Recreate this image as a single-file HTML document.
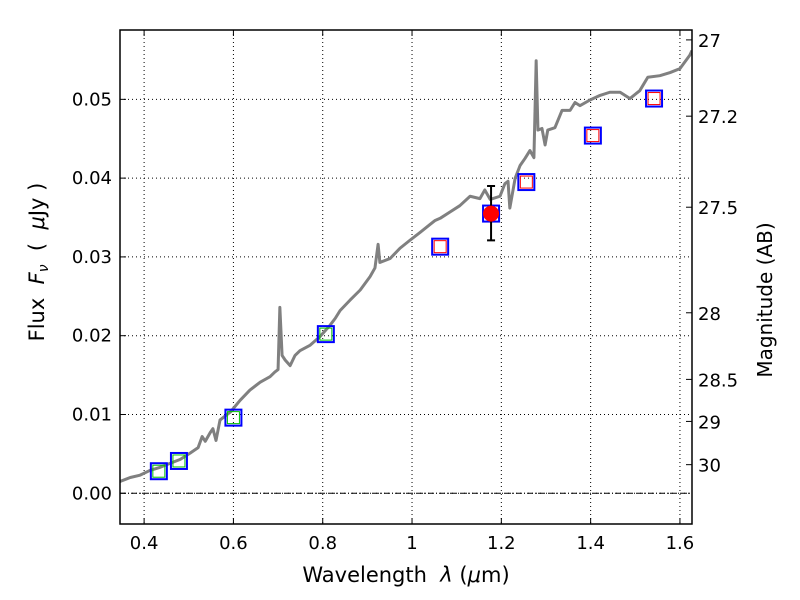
<!DOCTYPE html>
<html><head><meta charset="utf-8"><style>
body{margin:0;background:#fff;}
svg{display:block;font-family:"DejaVu Sans","Liberation Sans",sans-serif;}
</style></head><body>
<svg id="chart" width="800" height="600" viewBox="0 0 800 600" xmlns="http://www.w3.org/2000/svg"></svg>
<script>
const specWave=[0.346,0.369,0.391,0.413,0.436,0.458,0.481,0.503,0.521,0.530,0.537,0.548,0.554,0.561,0.570,0.593,0.615,0.637,0.660,0.682,0.693,0.700,0.704,0.709,0.716,0.727,0.738,0.749,0.772,0.794,0.816,0.828,0.839,0.861,0.884,0.906,0.917,0.924,0.928,0.951,0.973,0.995,1.018,1.040,1.051,1.063,1.085,1.107,1.130,1.152,1.163,1.175,1.197,1.208,1.215,1.219,1.231,1.242,1.253,1.264,1.273,1.278,1.282,1.291,1.298,1.304,1.320,1.336,1.354,1.365,1.376,1.398,1.421,1.443,1.466,1.488,1.510,1.528,1.555,1.578,1.600,1.622,1.627];
const specFlux=[0.0015,0.0020,0.0023,0.0029,0.0033,0.0038,0.0043,0.0051,0.0058,0.0072,0.0066,0.0077,0.0082,0.0067,0.0093,0.0103,0.0118,0.0131,0.0141,0.0148,0.0154,0.0157,0.0236,0.0175,0.0169,0.0162,0.0175,0.0181,0.0188,0.0199,0.0213,0.0222,0.0232,0.0245,0.0258,0.0275,0.0286,0.0316,0.0293,0.0298,0.0311,0.0321,0.0331,0.0341,0.0346,0.0349,0.0357,0.0365,0.0377,0.0374,0.0385,0.0373,0.0377,0.0393,0.0396,0.0362,0.0400,0.0416,0.0425,0.0435,0.0426,0.0549,0.0461,0.0463,0.0442,0.0461,0.0464,0.0486,0.0486,0.0496,0.0492,0.0499,0.0505,0.0509,0.0509,0.0501,0.0511,0.0528,0.0530,0.0534,0.0539,0.0556,0.0562];
const photWave=[0.433,0.478,0.600,0.807,1.063,1.177,1.256,1.405,1.542];
const photFlux=[0.0028,0.0041,0.0096,0.0202,0.0313,0.0355,0.0395,0.0454,0.0501];
const photKind=["green","green","green","green","red","none","red","red","red"];
const obsWave=[1.177];const obsFlux=[0.0355];const obsLo=[0.0321];const obsHi=[0.0390];
const xTicks=[0.4,0.6,0.8,1.0,1.2,1.4,1.6];
const xTickLabels=["0.4","0.6","0.8","1","1.2","1.4","1.6"];
const yTicks=[0.00,0.01,0.02,0.03,0.04,0.05];
const yTickLabels=["0.00","0.01","0.02","0.03","0.04","0.05"];
const magTicks=[27,27.2,27.5,28,28.5,29,30];
const magTickLabels=["27","27.2","27.5","28","28.5","29","30"];

const L=120,R=692,T=30,B=524,X0=0.346,X1=1.627,Y0=-0.0039,Y1=0.0588;
const sx=v=>L+(v-X0)/(X1-X0)*(R-L);
const sy=v=>B-(v-Y0)/(Y1-Y0)*(B-T);
const magToFlux=m=>Math.pow(10,(23.9-m)/2.5);
const svg=document.getElementById('chart');const NS="http://www.w3.org/2000/svg";
function mk(tag,attrs,parent){const e=document.createElementNS(NS,tag);for(const k in attrs)e.setAttribute(k,attrs[k]);(parent||svg).appendChild(e);return e;}
const defs=mk('defs',{});const cp=mk('clipPath',{id:'clip'},defs);mk('rect',{x:L,y:T,width:R-L,height:B-T},cp);

const grid=mk('g',{});


xTicks.forEach(v=>mk('line',{x1:sx(v),x2:sx(v),y1:T,y2:B,stroke:'#000','stroke-width':1,'stroke-dasharray':'1,3'},grid));
yTicks.forEach(v=>mk('line',{x1:L,x2:R,y1:sy(v),y2:sy(v),stroke:'#000','stroke-width':1,'stroke-dasharray':'1,3'},grid));
const zl=mk('line',{x1:L,x2:R,y1:sy(0),y2:sy(0),stroke:'#000','stroke-width':1,'stroke-dasharray':'6,2,1,2'});



const sp=mk('polyline',{points:specWave.map((w,i)=>sx(w)+','+sy(specFlux[i])).join(' '),fill:'none',stroke:'#808080','stroke-width':3,'clip-path':'url(#clip)','stroke-linejoin':'round'});



photWave.forEach((w,i)=>{const x=sx(w),y=sy(photFlux[i]);
 const g=mk('g',{});
 
 
 if(photKind[i]!=='none')mk('rect',{x:x-6,y:y-6,width:12,height:12,fill:'none',stroke:photKind[i]==='green'?'#00c000':'#ff0000','stroke-width':1},g);
 mk('rect',{x:x-8,y:y-8,width:16,height:16,fill:'none',stroke:'#0000ff','stroke-width':2},g);
});
obsWave.forEach((w,i)=>{const x=sx(w);const g=mk('g',{});
 
 
 mk('line',{x1:x,x2:x,y1:sy(obsLo[i]),y2:sy(obsHi[i]),stroke:'#000','stroke-width':2},g);
 mk('line',{x1:x-4,x2:x+4,y1:sy(obsLo[i]),y2:sy(obsLo[i]),stroke:'#000','stroke-width':2},g);
 mk('line',{x1:x-4,x2:x+4,y1:sy(obsHi[i]),y2:sy(obsHi[i]),stroke:'#000','stroke-width':2},g);
 mk('circle',{cx:x,cy:sy(obsFlux[i]),r:8,fill:'#ff0000'},g);
});

const fr=mk('rect',{x:L,y:T,width:R-L,height:B-T,fill:'none',stroke:'#000','stroke-width':1.5});



xTicks.forEach((v,i)=>{const x=sx(v);
 mk('line',{x1:x,x2:x,y1:B,y2:B-6,stroke:'#000'});mk('line',{x1:x,x2:x,y1:T,y2:T+6,stroke:'#000'});
 const t=mk('text',{x:x,y:B+25,'font-size':18,'text-anchor':'middle'});t.textContent=xTickLabels[i];
 
 
});
yTicks.forEach((v,i)=>{const y=sy(v);
 mk('line',{x1:L,x2:L+6,y1:y,y2:y,stroke:'#000'});
 const t=mk('text',{x:L-8,y:y+6,'font-size':18,'text-anchor':'end'});t.textContent=yTickLabels[i];
 
 
});
magTicks.forEach((m,i)=>{const y=sy(magToFlux(m));
 mk('line',{x1:R,x2:R-6,y1:y,y2:y,stroke:'#000'});
 const t=mk('text',{x:R+6,y:y+7,'font-size':18,'text-anchor':'start'});t.textContent=magTickLabels[i];
 
 
});
const xt=mk('text',{x:406,y:582,'font-size':21,'text-anchor':'middle',style:'white-space:pre'});
xt.innerHTML='Wavelength  <tspan font-style="italic">λ</tspan> (<tspan font-style="italic">μ</tspan>m)';


const yt=mk('text',{x:0,y:0,'font-size':21,'text-anchor':'middle',style:'white-space:pre',transform:`translate(44,262) rotate(-90)`});
yt.innerHTML='Flux  <tspan font-style="italic">F</tspan><tspan font-style="italic" font-size="14" dy="4">ν</tspan><tspan dy="-4">  (  </tspan><tspan font-style="italic">μ</tspan>Jy )';


const rt=mk('text',{x:0,y:0,'font-size':20,'text-anchor':'middle',transform:`translate(772,300) rotate(-90)`});
rt.textContent='Magnitude (AB)';


</script>
</body></html>
